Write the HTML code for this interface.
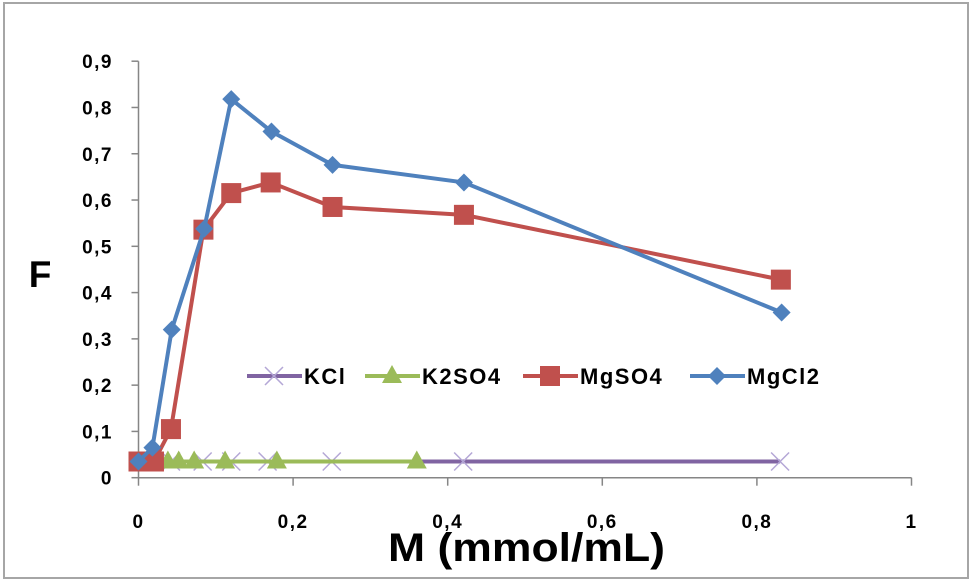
<!DOCTYPE html>
<html><head><meta charset="utf-8"><style>
html,body{margin:0;padding:0;background:#fff}
svg{display:block}
text{font-family:"Liberation Sans",sans-serif;font-weight:bold;fill:#000}
</style></head><body>
<svg id="chart" width="971" height="585">
<rect x="4" y="3" width="964" height="575" fill="#fff" stroke="#a6a6a6" stroke-width="2"/>
<g id="axes"></g>
<g id="series"></g>
<text x="40" y="287" font-size="37" text-anchor="middle">F</text>
<text x="388" y="561" font-size="40" textLength="277" lengthAdjust="spacingAndGlyphs">M (mmol/mL)</text>
<g id="legend"></g>
</svg>
<script>
const xTicks=[0,0.2,0.4,0.6,0.8,1];
const xTickLabels=["0","0,2","0,4","0,6","0,8","1"];
const yTicks=[0,0.1,0.2,0.3,0.4,0.5,0.6,0.7,0.8,0.9];
const yTickLabels=["0","0,1","0,2","0,3","0,4","0,5","0,6","0,7","0,8","0,9"];
const seriesNames=["KCl","K2SO4","MgSO4","MgCl2"];
const kclX=[0,0.042,0.083,0.12,0.167,0.25,0.42,0.83];
const kclY=[0.035,0.035,0.035,0.035,0.035,0.035,0.035,0.035];
const k2so4X=[0,0.038,0.052,0.072,0.112,0.179,0.36];
const k2so4Y=[0.035,0.035,0.035,0.035,0.035,0.035,0.035];
const mgso4X=[0,0.02,0.042,0.084,0.12,0.171,0.251,0.421,0.831];
const mgso4Y=[0.035,0.035,0.105,0.536,0.615,0.638,0.585,0.568,0.428];
const mgcl2X=[0,0.018,0.043,0.085,0.12,0.172,0.251,0.421,0.832];
const mgcl2Y=[0.035,0.065,0.32,0.538,0.818,0.748,0.676,0.638,0.357];

const X0=138.5,X1=911.5,Y0=477.7,Y9=61.2;
const sx=v=>X0+v*(X1-X0);
const sy=v=>Y0-v/0.9*(Y0-Y9);
const NS="http://www.w3.org/2000/svg";
function mk(tag,attrs,parent){const e=document.createElementNS(NS,tag);for(const k in attrs)e.setAttribute(k,attrs[k]);parent.appendChild(e);return e;}
const axes=document.getElementById('axes');
let a=mk('line',{x1:X0,y1:Y9,x2:X0,y2:Y0,stroke:'#868686','stroke-width':1.5},axes);


a=mk('line',{x1:X0,y1:Y0,x2:X1,y2:Y0,stroke:'#868686','stroke-width':1.5},axes);


yTicks.forEach((v,i)=>{
  const t=mk('line',{x1:X0-7,x2:X0,y1:sy(v),y2:sy(v),stroke:'#868686','stroke-width':1.5},axes);
  
  
  const l=mk('text',{x:113,y:sy(v)+7,'font-size':19,'letter-spacing':1.5,'text-anchor':'end'},axes);
  l.textContent=yTickLabels[i];
  
  
});
xTicks.forEach((v,i)=>{
  const t=mk('line',{x1:sx(v),x2:sx(v),y1:Y0,y2:Y0+8,stroke:'#868686','stroke-width':1.5},axes);
  
  
  const l=mk('text',{x:sx(v),y:528,'font-size':19,'letter-spacing':1.5,'text-anchor':'middle'},axes);
  l.textContent=xTickLabels[i];
  
  
});
const colors=["#8064a2","#9bbb59","#c0504d","#4f81bd"];
function marker(type,x,y,c,g){
  let m;
  if(type==='x'){m=mk('path',{d:`M${x-9},${y-9}L${x+9},${y+9}M${x-9},${y+9}L${x+9},${y-9}`,stroke:'#b4a7d6','stroke-width':1.5,fill:'none'},g);}
  else if(type==='tri'){m=mk('polygon',{points:`${x},${y-11} ${x-10},${y+7} ${x+10},${y+7}`,fill:c},g);}
  else if(type==='sq'){m=mk('rect',{x:x-10,y:y-10,width:20,height:20,fill:c},g);}
  else {m=mk('polygon',{points:`${x},${y-9} ${x+9},${y} ${x},${y+9} ${x-9},${y}`,fill:c},g);}
  
  
}
const sg=document.getElementById('series');
const defs=[[kclX,kclY,'x'],[k2so4X,k2so4Y,'tri'],[mgso4X,mgso4Y,'sq'],[mgcl2X,mgcl2Y,'dia']];
defs.forEach((d,i)=>{
  const g=mk('g',{},sg);
  
  
  const pts=d[0].map((x,j)=>sx(x)+','+sy(d[1][j])).join(' ');
  const p=mk('polyline',{points:pts,fill:'none',stroke:colors[i],'stroke-width':4,'stroke-linejoin':'round'},g);
  
  
  d[0].forEach((x,j)=>marker(d[2],sx(x),sy(d[1][j]),colors[i],g));
});
const lg=document.getElementById('legend');
const lx=[247,365,523,690];
defs.forEach((d,i)=>{
  const g=mk('g',{},lg);
  
  
  mk('line',{x1:lx[i],x2:lx[i]+55,y1:376,y2:376,stroke:colors[i],'stroke-width':4},g);
  marker(d[2],lx[i]+27,376,colors[i],g);
  const t=mk('text',{x:lx[i]+57,y:384,'font-size':22,'letter-spacing':1.5},g);
  t.textContent=seriesNames[i];
});
</script>
</body></html>
